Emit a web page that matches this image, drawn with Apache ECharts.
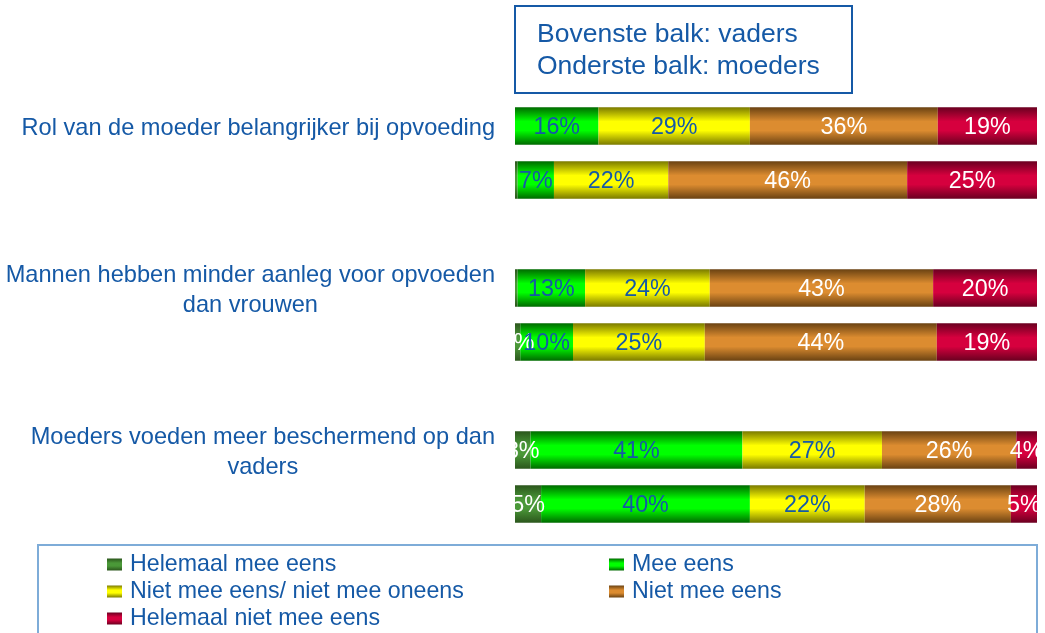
<!DOCTYPE html>
<html>
<head>
<meta charset="utf-8">
<script src="https://cdn.jsdelivr.net/npm/echarts@6/dist/echarts.min.js"></script>
<style>
html,body{margin:0;padding:0;background:#fff;}
#chart{width:1045px;height:633px;}
</style>
</head>
<body>
<div id="chart"></div>
<script>
// ---- data ----
const questions = [
  'Rol van de moeder belangrijker bij opvoeding',
  'Mannen hebben minder aanleg voor opvoeden\ndan vrouwen',
  'Moeders voeden meer beschermend op dan\nvaders'
];
const answers = ['Helemaal mee eens', 'Mee eens', 'Niet mee eens/ niet mee oneens', 'Niet mee eens', 'Helemaal niet mee eens'];
// per bar: [Helemaal mee eens, Mee eens, Neutraal, Niet mee eens, Helemaal niet mee eens]
const rolVaders          = [0,   16, 29, 36, 19];
const rolMoeders         = [0.5,  7, 22, 46, 25];
const aanlegVaders       = [0.5, 13, 24, 43, 20];
const aanlegMoeders      = [1,   10, 25, 44, 19];
const beschermendVaders  = [3,   41, 27, 26, 4];
const beschermendMoeders = [5,   40, 22, 28, 5];
const boxText = ['Bovenste balk: vaders', 'Onderste balk: moeders'];

// ---- build ----
const rows = [rolVaders, rolMoeders, null, aanlegVaders, aanlegMoeders, null, beschermendVaders, beschermendMoeders];
const rowLabels = [questions[0], '', '', questions[1], '', '', questions[2], ''];

const BLUE = '#1559a6';
const FONT = '"Liberation Sans", Arial, sans-serif';
function grad(dark, bright) {
  return new echarts.graphic.LinearGradient(0, 0, 0, 1, [
    {offset: 0, color: dark},
    {offset: 0.38, color: bright},
    {offset: 0.62, color: bright},
    {offset: 1, color: dark}
  ]);
}
const colors = [
  grad('#2b561c', '#4a9838'),
  grad('#006a00', '#00ff00'),
  grad('#7a7a00', '#ffff00'),
  grad('#6a4212', '#dc8c30'),
  grad('#6a0020', '#d6003e')
];
const labelColors = ['#ffffff', BLUE, BLUE, '#ffffff', '#ffffff'];

const series = answers.map((name, i) => ({
  name: name,
  type: 'bar',
  stack: 'total',
  barWidth: 37.5,
  itemStyle: {color: colors[i]},
  label: {
    show: true,
    position: 'inside',
    offset: [0, 2],
    color: labelColors[i],
    fontSize: 23.3,
    fontFamily: FONT,
    formatter: p => (p.data && p.data.raw >= 1) ? Math.round(p.data.raw) + '%' : ''
  },
  emphasis: {disabled: true},
  data: rows.map(r => {
    if (!r) return '-';
    const s = r.reduce((a, b) => a + b, 0);
    return {value: r[i] / s * 100, raw: r[i]};
  })
}));

const chart = echarts.init(document.getElementById('chart'));
chart.setOption({
  animation: false,
  textStyle: {fontFamily: FONT},
  title: {
    text: boxText.join('\n'),
    left: 515, top: 6,
    padding: [13, 32, 10, 22],
    borderColor: BLUE, borderWidth: 2,
    textStyle: {color: BLUE, fontSize: 26.5, fontWeight: 'normal', lineHeight: 32, fontFamily: FONT}
  },
  grid: {left: 515, right: 8, top: 99, height: 432, containLabel: false, outerBoundsMode: 'none'},
  xAxis: {type: 'value', min: 0, max: 100, show: false},
  yAxis: {
    type: 'category',
    inverse: true,
    data: rowLabels,
    axisLine: {show: false}, axisTick: {show: false}, splitLine: {show: false},
    axisLabel: {
      align: 'right', margin: 20, color: BLUE, fontSize: 23.6, lineHeight: 30, fontFamily: FONT,
      interval: 0, padding: [5, 0, 0, 0],
      formatter: v => v.split('\n').map((l, k) => k === 0 ? '{m|' + l + '}' : '{c|' + l + '}').join('\n'),
      rich: {
        m: {color: BLUE, fontSize: 23.6, lineHeight: 30, fontFamily: FONT, align: 'right'},
        c: {color: BLUE, fontSize: 23.6, lineHeight: 30, fontFamily: FONT, align: 'center'}
      }
    }
  },
  legend: [
    {
      data: [answers[0], answers[2], answers[4]],
      orient: 'vertical', left: 107, top: 551, padding: 0,
      itemWidth: 15, itemHeight: 12, itemGap: 0, icon: 'rect',
      selectedMode: false,
      textStyle: {color: BLUE, fontSize: 23.2, lineHeight: 27, fontFamily: FONT, padding: [0, 0, 0, 3]}
    },
    {
      data: [answers[1], answers[3]],
      orient: 'vertical', left: 609, top: 551, padding: 0,
      itemWidth: 15, itemHeight: 12, itemGap: 0, icon: 'rect',
      selectedMode: false,
      textStyle: {color: BLUE, fontSize: 23.2, lineHeight: 27, fontFamily: FONT, padding: [0, 0, 0, 3]}
    }
  ],
  graphic: [
    {type: 'rect', z: 100, silent: true,
     shape: {x: 499, y: 99, width: 16, height: 432}, style: {fill: '#ffffff'}},
    {type: 'rect', z: 1, silent: true,
     shape: {x: 38, y: 545, width: 999, height: 100}, style: {fill: 'none', stroke: '#7eacd8', lineWidth: 2}}
  ],
  series: series
});
</script>
</body>
</html>
